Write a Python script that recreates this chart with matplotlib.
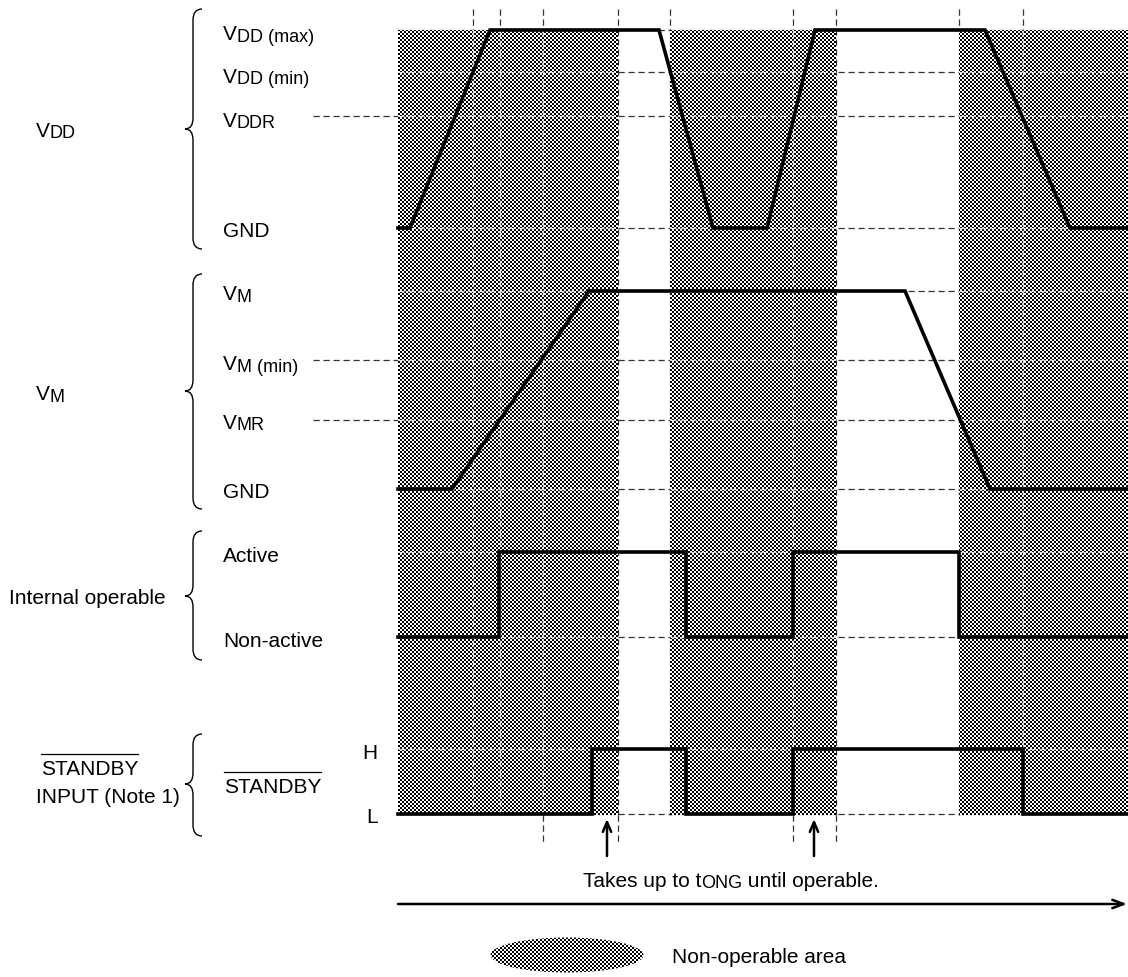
import numpy as np
import matplotlib
matplotlib.use("Agg")
import matplotlib.pyplot as plt
from matplotlib.patches import Rectangle, Ellipse, PathPatch
from matplotlib.path import Path

FONT = ["Liberation Sans", "DejaVu Sans"]
W, H = 1128, 978

# ---------------- data (schematic units = pixel positions) ----------------
hatch_spans = [(398, 618), (670, 836), (959, 1128)]
hatch_top, hatch_bottom = 31, 816
marker_x = [473, 500, 543, 618, 670, 793, 836, 959, 1023]
marker_bottom_x = [543, 618, 793, 836]
marker_top, marker_low = 10, 845

vdd_levels = [31, 73, 117, 229]
vm_levels = [292, 361, 421, 490]
io_levels = [553, 638]
sb_levels = [750, 815]
left_dash_levels = [117, 361, 421]
plot_left, plot_right, dash_left = 398, 1128, 313

vdd_t = [398, 410, 490, 659, 713, 767, 815, 985, 1070, 1128]
vdd_v = [229, 229, 31, 31, 229, 229, 31, 31, 229, 229]
vm_t = [398, 452, 589, 905, 990, 1128]
vm_v = [490, 490, 292, 292, 490, 490]
io_t = [398, 499, 686, 793, 959, 1128]
io_v = [638, 553, 638, 553, 638, 638]
sb_t = [398, 592, 686, 793, 1023, 1128]
sb_v = [815, 750, 815, 750, 815, 815]

arrow_x = [607, 814]
arrow_y = (857, 820)
time_axis_y = 905

# label specs: (x, baseline, [(text, size, dy), ...])
BIG, SUB = 15, 13
labels = [
    (36, 137, [("V", BIG, 0), ("DD", SUB, 1.5)]),
    (223, 40, [("V", BIG, 0), ("DD (max)", SUB, 1.5)]),
    (223, 83, [("V", BIG, 0), ("DD (min)", SUB, 1.5)]),
    (223, 127, [("V", BIG, 0), ("DDR", SUB, 1.5)]),
    (223, 237, [("GND", BIG, 0)]),
    (36, 400, [("V", BIG, 0), ("M", SUB, 1.5)]),
    (223, 300, [("V", BIG, 0), ("M", SUB, 1.5)]),
    (223, 370, [("V", BIG, 0), ("M (min)", SUB, 1.5)]),
    (223, 429, [("V", BIG, 0), ("MR", SUB, 1.5)]),
    (223, 498, [("GND", BIG, 0)]),
    (223, 562, [("Active", BIG, 0)]),
    (223, 647, [("Non-active", BIG, 0)]),
    (9, 604, [("Internal operable", BIG, 0)]),
    (36, 803, [("INPUT (Note 1)", BIG, 0)]),
    (362, 759, [("H", BIG, 0)]),
    (366, 823, [("L", BIG, 0)]),
    (583, 887, [("Takes up to t", BIG, 0), ("ONG", SUB, 1.5), (" until operable.", BIG, 0)]),
    (672, 963, [("Non-operable area", BIG, 0)]),
]
overlined = [(41, 775, "STANDBY"), (224, 793, "STANDBY")]

braces = [(10, 130, 250), (275, 392, 510), (532, 597, 661), (735, 785, 837)]

legend_center = (567, 956)
legend_size = (153, 35)

# ---------------- figure ----------------
fig = plt.figure(figsize=(W / 100, H / 100), dpi=100)
ax = fig.add_axes([0, 0, 1, 1])
ax.set_axis_off()

DASH = (0, (5, 3))
DCOL = "#333333"

# dashed reference lines (under the hatch)
for lv in vdd_levels + vm_levels + io_levels + sb_levels:
    ax.hlines(lv, plot_left, plot_right, colors=DCOL, lw=0.9, linestyles=DASH, zorder=1)
for lv in left_dash_levels:
    ax.hlines(lv, dash_left, plot_left, colors=DCOL, lw=0.9, linestyles=DASH, zorder=1)
for mx in marker_x:
    ax.vlines(mx, marker_top, hatch_bottom, colors=DCOL, lw=0.9, linestyles=DASH, zorder=1)
for mx in marker_bottom_x:
    ax.vlines(mx, hatch_bottom, marker_low, colors=DCOL, lw=0.9, linestyles=DASH, zorder=1)

# checker texture for the non-operable areas
ny, nx = H // 2, W // 2
checker = (np.add.outer(np.arange(ny), np.arange(nx)) % 2).astype(float)

def textured(patch):
    patch.set_transform(ax.transData)
    im = ax.imshow(checker, cmap="gray", vmin=0, vmax=1, extent=(0, W, H, 0),
                   interpolation="nearest", aspect="auto", zorder=2)
    im.set_clip_path(patch)

for x0, x1 in hatch_spans:
    textured(Rectangle((x0, hatch_top), x1 - x0, hatch_bottom - hatch_top))

# faint grid lines visible through texture
LCOL = "#d9d9d9"
for x0, x1 in hatch_spans:
    for lv in vdd_levels[1:] + vm_levels + io_levels + sb_levels[:1]:
        ax.hlines(lv, x0, x1, colors=LCOL, lw=0.9, linestyles=DASH, zorder=3)
    for mx in marker_x:
        if x0 < mx < x1:
            ax.vlines(mx, hatch_top, hatch_bottom, colors=LCOL, lw=0.9, linestyles=DASH, zorder=3)

# waveforms
LW = 2.6
ax.plot(vdd_t, vdd_v, color="black", lw=LW, zorder=5, solid_joinstyle="miter")
ax.plot(vm_t, vm_v, color="black", lw=LW, zorder=5, solid_joinstyle="miter")
ax.plot(io_t, io_v, color="black", lw=LW, zorder=5, drawstyle="steps-post", solid_joinstyle="miter")
ax.plot(sb_t, sb_v, color="black", lw=LW, zorder=5, drawstyle="steps-post", solid_joinstyle="miter")

# arrows
for axx in arrow_x:
    ax.annotate("", xy=(axx, arrow_y[1]), xytext=(axx, arrow_y[0]),
                arrowprops=dict(arrowstyle="->,head_length=0.7,head_width=0.3", lw=1.8,
                                color="black", shrinkA=0, shrinkB=0), zorder=6)
ax.annotate("", xy=(plot_right - 1, time_axis_y), xytext=(plot_left, time_axis_y),
            arrowprops=dict(arrowstyle="->,head_length=0.8,head_width=0.3", lw=1.8,
                            color="black", shrinkA=0, shrinkB=0), zorder=6)

# braces
def brace(top, tip, bot, xr=202, xm=193, xl=185, r=11):
    verts = [(xr, top), (xm, top), (xm, top + r),
             (xm, tip - r), (xm, tip), (xl, tip),
             (xm, tip), (xm, tip + r),
             (xm, bot - r), (xm, bot), (xr, bot)]
    codes = [Path.MOVETO, Path.CURVE3, Path.CURVE3,
             Path.LINETO, Path.CURVE3, Path.CURVE3,
             Path.CURVE3, Path.CURVE3,
             Path.LINETO, Path.CURVE3, Path.CURVE3]
    ax.add_patch(PathPatch(Path(verts, codes), fill=False, lw=1.0, edgecolor="black",
                           transform=ax.transData))

for top, tip, bot in braces:
    brace(top, tip, bot)

# legend ellipse
textured(Ellipse(legend_center, legend_size[0], legend_size[1]))

ax.set_xlim(0, W)
ax.set_ylim(H, 0)

# texts
renderer = fig.canvas.get_renderer()

def rich(x, yb, parts):
    start = x
    for s, size, dy in parts:
        t = ax.text(x, yb + dy, s, fontsize=size, family=FONT, va="baseline",
                    ha="left", color="black", zorder=7)
        x += t.get_window_extent(renderer).width
    return start, x

for x, yb, parts in labels:
    rich(x, yb, parts)

for x, yb, s in overlined:
    x0, x1 = rich(x, yb, [(s, BIG, 0)])
    ax.plot([x0, x1], [yb - 20, yb - 20], color="black", lw=0.9, zorder=7)

fig.savefig("out.png", dpi=100, facecolor="white")
